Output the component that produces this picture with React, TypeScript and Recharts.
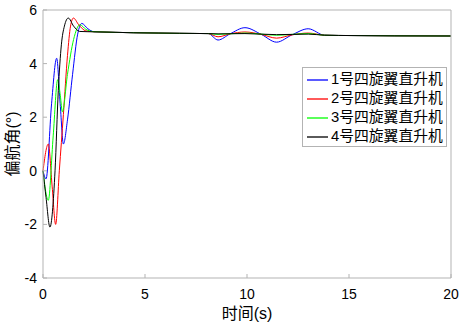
import { LineChart, Line, XAxis, YAxis, Legend } from "recharts";

// time (s) and yaw angle (°), one pair of arrays per quadrotor
const timeTicks = [0, 5, 10, 15, 20];
const yawTicks = [-4, -2, 0, 2, 4, 6];

const names = ["1号四旋翼直升机", "2号四旋翼直升机", "3号四旋翼直升机", "4号四旋翼直升机"];
const colors = ["#0000ff", "#ff0000", "#00ff00", "#000000"];

const t1 = [0, 0.15, 0.42, 0.67, 0.85, 1.0, 1.2, 1.45, 1.7, 1.9, 2.2, 2.5, 6.7, 8.1, 8.58, 9.17, 9.9, 10.7, 11.45, 12.2, 13.0, 13.8, 14.5, 20];
const y1 = [0, -0.3, 2.5, 4.2, 2.4, 1.0, 1.9, 3.6, 5.1, 5.5, 5.3, 5.19, 5.13, 5.12, 4.88, 5.11, 5.34, 5.09, 4.8, 5.07, 5.3, 5.06, 5.05, 5.03];

const t2 = [0, 0.26, 0.45, 0.62, 0.8, 1.0, 1.2, 1.35, 1.49, 1.75, 2.1, 2.5, 6.7, 8.1, 8.58, 9.17, 9.9, 10.7, 11.45, 12.2, 13.0, 13.8, 14.5, 20];
const y2 = [0, 1.0, -0.6, -2.0, 0.0, 2.1, 4.3, 5.4, 5.7, 5.45, 5.22, 5.19, 5.13, 5.12, 5.0, 5.11, 5.18, 5.09, 4.95, 5.07, 5.14, 5.06, 5.05, 5.03];

const t3 = [0, 0.26, 0.5, 0.72, 0.85, 0.95, 1.2, 1.5, 1.81, 2.1, 2.5, 6.7, 8.1, 8.58, 9.9, 11.45, 13.0, 13.8, 14.5, 20];
const y3 = [0, -1.1, 1.3, 3.4, 2.8, 2.2, 3.6, 4.9, 5.45, 5.28, 5.19, 5.13, 5.12, 5.09, 5.14, 5.06, 5.12, 5.06, 5.05, 5.03];

const t4 = [0, 0.15, 0.34, 0.59, 0.75, 0.9, 1.05, 1.24, 1.5, 1.8, 2.2, 6.7, 8.1, 8.58, 9.9, 11.45, 13.0, 13.8, 14.5, 20];
const y4 = [0, -1.0, -2.1, 0.0, 3.0, 4.7, 5.4, 5.7, 5.4, 5.2, 5.19, 5.13, 5.12, 5.11, 5.12, 5.08, 5.1, 5.06, 5.05, 5.03];

const series = [
  { t: t1, y: y1 },
  { t: t2, y: y2 },
  { t: t3, y: y3 },
  { t: t4, y: y4 },
].map((s, i) => ({
  name: names[i],
  color: colors[i],
  data: s.t.map((t, k) => ({ t, v: s.y[k] })),
}));

const FRAME = "#b3b3b3";
const FONT = "'Liberation Sans', Arial, 'Noto Sans CJK SC', sans-serif";

function LeftTick({ x, y, payload }: any) {
  return (
    <g>
      <line x1={x + 6} x2={x + 10} y1={y} y2={y} stroke={FRAME} />
      <text x={x} y={y} dy="0.36em" textAnchor="end" fontSize={14} fill="#000">
        {payload.value}
      </text>
    </g>
  );
}

function BottomTick({ x, y, payload }: any) {
  return (
    <g>
      <line x1={x} x2={x} y1={y - 11} y2={y - 15} stroke={FRAME} />
      <text x={x} y={y} dy="0.71em" textAnchor="middle" fontSize={14} fill="#000">
        {payload.value}
      </text>
    </g>
  );
}

function TopTick({ x, y }: any) {
  return <line x1={x} x2={x} y1={y} y2={y + 4} stroke={FRAME} />;
}

function RightTick({ x, y }: any) {
  return <line x1={x} x2={x - 4} y1={y} y2={y} stroke={FRAME} />;
}

function LegendBox({ payload }: any) {
  return (
    <div
      style={{
        width: 145,
        height: 80,
        border: `1px solid ${FRAME}`,
        background: "#fff",
        boxSizing: "border-box",
        paddingTop: 2,
      }}
    >
      {(payload || []).map((p: any) => (
        <div key={p.value} style={{ display: "flex", alignItems: "center", height: 19 }}>
          <svg width={21} height={4} style={{ marginLeft: 4, marginRight: 3 }}>
            <line x1={0} x2={21} y1={2} y2={2} stroke={p.color} strokeWidth={1.3} />
          </svg>
          <span style={{ fontSize: 14.8, color: "#000", lineHeight: "19px", whiteSpace: "nowrap" }}>{p.value}</span>
        </div>
      ))}
    </div>
  );
}

export default function App() {
  return (
    <div style={{ position: "absolute", left: 0, top: 0, fontFamily: FONT, background: "#fff" }}>
      <LineChart width={463} height={327} margin={{ top: 0, right: 0, bottom: 0, left: 0 }}>
        <XAxis
          xAxisId="b"
          type="number"
          dataKey="t"
          domain={[0, 20]}
          ticks={timeTicks}
          height={49}
          stroke={FRAME}
          tickSize={0}
          tickMargin={11}
          tick={<BottomTick />}
          tickLine={false}
          allowDuplicatedCategory={false}
          label={{ value: "时间(s)", position: "insideBottom", offset: 8, fontSize: 16, fill: "#000" }}
        />
        <XAxis
          xAxisId="top"
          orientation="top"
          type="number"
          dataKey="t"
          domain={[0, 20]}
          ticks={timeTicks}
          height={10}
          stroke={FRAME}
          tickSize={0}
          tickMargin={0}
          tick={<TopTick />}
          tickLine={false}
          allowDuplicatedCategory={false}
        />
        <YAxis
          yAxisId="l"
          type="number"
          domain={[-4, 6]}
          ticks={yawTicks}
          width={43}
          stroke={FRAME}
          tickSize={0}
          tickMargin={6}
          tick={<LeftTick />}
          tickLine={false}
          label={{
            value: "偏航角(°)",
            angle: -90,
            position: "insideLeft",
            offset: 12,
            fontSize: 16,
            fill: "#000",
            style: { textAnchor: "middle" },
          }}
        />
        <YAxis
          yAxisId="r"
          orientation="right"
          type="number"
          domain={[-4, 6]}
          ticks={yawTicks}
          width={12}
          stroke={FRAME}
          tickSize={0}
          tickMargin={0}
          tick={<RightTick />}
          tickLine={false}
        />
        <Legend
          layout="vertical"
          align="center"
          verticalAlign="middle"
          content={<LegendBox />}
          wrapperStyle={{ left: 302, top: 67, width: 145, height: 80 }}
        />
        {series.map((s) => (
          <Line
            key={s.name}
            xAxisId="b"
            yAxisId="l"
            data={s.data}
            dataKey="v"
            name={s.name}
            type="monotone"
            stroke={s.color}
            strokeWidth={1}
            dot={false}
            activeDot={false}
            isAnimationActive={false}
          />
        ))}
      </LineChart>
    </div>
  );
}
